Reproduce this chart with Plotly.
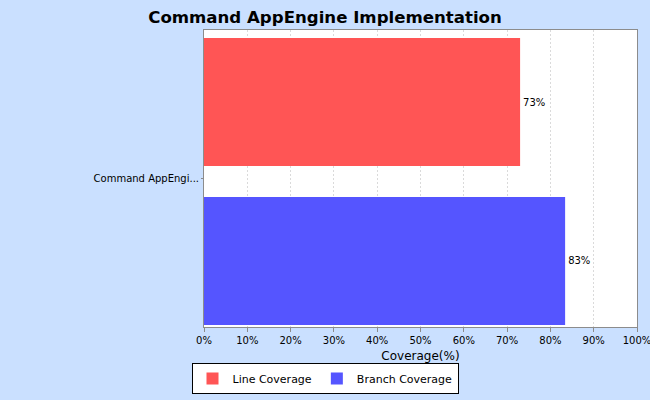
import plotly.graph_objects as go

categories = ["Command AppEngi..."]
series_names = ["Line Coverage", "Branch Coverage"]
line_cov = [73.0]
branch_cov = [83.4]
line_labels = ["73%"]
branch_labels = ["83%"]
tick_vals = [0, 10, 20, 30, 40, 50, 60, 70, 80, 90, 100]
tick_text = ["0%", "10%", "20%", "30%", "40%", "50%", "60%", "70%", "80%", "90%", "100%"]

font = "DejaVu Sans, Liberation Sans, sans-serif"
bg = "rgb(202,224,255)"

fig = go.Figure()
fig.add_trace(go.Bar(
    x=line_cov, y=[0], orientation="h", name=series_names[0],
    marker=dict(color="rgb(255,85,85)", line=dict(width=0)),
    width=0.431, offset=0.042,
    text=line_labels, textposition="outside", cliponaxis=False,
    textfont=dict(size=10, color="black", family=font),
))
fig.add_trace(go.Bar(
    x=branch_cov, y=[0], orientation="h", name=series_names[1],
    marker=dict(color="rgb(85,85,255)", line=dict(width=0)),
    width=0.431, offset=-0.493,
    text=branch_labels, textposition="outside", cliponaxis=False,
    textfont=dict(size=10, color="black", family=font),
))

fig.update_layout(
    width=650, height=400,
    paper_bgcolor=bg, plot_bgcolor="white",
    margin=dict(l=204, r=13, t=30, b=73),
    barmode="overlay",
    font=dict(family=font, size=10, color="black"),
    title=dict(text="<b>Command AppEngine Implementation</b>", x=0.5, xanchor="center",
               y=0.958, yanchor="middle", yref="container",
               font=dict(size=16.6, family=font, color="black")),
    xaxis=dict(range=[0, 100], tickvals=tick_vals, ticktext=tick_text,
               showgrid=True, gridcolor="rgb(218,218,218)", griddash="2px,2px", gridwidth=1,
               showline=True, linecolor="rgb(140,140,140)", mirror=True, linewidth=1,
               ticks="outside", ticklen=4, tickcolor="rgb(140,140,140)",
               tickfont=dict(size=10, family=font), ticklabeloverflow="allow",
               title=dict(text="Coverage(%)", font=dict(size=12, family=font), standoff=7),
               zeroline=False, fixedrange=True, automargin=False),
    yaxis=dict(range=[-0.5, 0.5], tickvals=[0], ticktext=categories,
               showgrid=False, showline=True, linecolor="rgb(140,140,140)", mirror=True,
               ticks="outside", ticklen=2, tickcolor="rgb(140,140,140)",
               tickfont=dict(size=10, family=font), zeroline=False, fixedrange=True,
               automargin=False),
    showlegend=True,
    legend=dict(orientation="h", x=0.5, xanchor="center", xref="container",
                y=0.015, yanchor="bottom", yref="container",
                bgcolor="white", bordercolor="black", borderwidth=1,
                font=dict(size=11, family=font), itemwidth=30,
                tracegroupgap=0, traceorder="normal"),
)

fig.write_html("out.html")
